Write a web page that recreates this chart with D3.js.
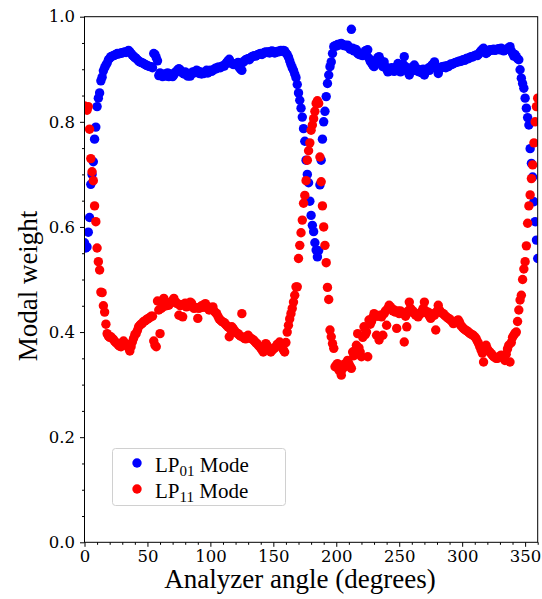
<!DOCTYPE html>
<html>
<head>
<meta charset="utf-8">
<script src="https://cdn.jsdelivr.net/npm/d3@7"></script>
<style>
  body { margin: 0; background: #fff; }
  .tick-label { font-family: "DejaVu Serif", serif; font-size: 16.5px; }
  .serif-label { font-family: "Liberation Serif", "Times New Roman", serif; }
</style>
</head>
<body>
<div id="app"></div>
<script>
// measurement angles, one per degree
const angles = d3.range(0, 361, 1);

// LP01 modal weight
const lp01 = [
  0.570, 0.560, 0.562, 0.590, 0.618, 0.681, 0.700, 0.724, 0.767, 0.790,
  0.829, 0.845, 0.855, 0.878, 0.885, 0.897, 0.903, 0.908, 0.912, 0.918,
  0.921, 0.924, 0.925, 0.926, 0.927, 0.928, 0.930, 0.929, 0.930, 0.931,
  0.931, 0.932, 0.933, 0.932, 0.934, 0.936, 0.933, 0.930, 0.927, 0.925,
  0.922, 0.921, 0.918, 0.916, 0.914, 0.913, 0.912, 0.911, 0.909, 0.908,
  0.907, 0.906, 0.905, 0.905, 0.903, 0.930, 0.928, 0.922, 0.916, 0.888,
  0.893, 0.889, 0.886, 0.888, 0.891, 0.887, 0.893, 0.886, 0.891, 0.887,
  0.886, 0.889, 0.894, 0.896, 0.899, 0.901, 0.899, 0.895, 0.893, 0.891,
  0.895, 0.890, 0.887, 0.890, 0.887, 0.892, 0.895, 0.893, 0.896, 0.898,
  0.897, 0.892, 0.895, 0.891, 0.894, 0.892, 0.895, 0.898, 0.893, 0.896,
  0.898, 0.896, 0.898, 0.900, 0.902, 0.901, 0.904, 0.904, 0.903, 0.905,
  0.907, 0.906, 0.910, 0.913, 0.916, 0.919, 0.912, 0.912, 0.909, 0.909,
  0.910, 0.911, 0.913, 0.903, 0.900, 0.898, 0.913, 0.916, 0.918, 0.919,
  0.920, 0.918, 0.922, 0.924, 0.925, 0.926, 0.925, 0.927, 0.928, 0.929,
  0.930, 0.928, 0.930, 0.932, 0.933, 0.932, 0.933, 0.931, 0.934, 0.935,
  0.933, 0.931, 0.932, 0.934, 0.933, 0.935, 0.936, 0.934, 0.936, 0.935,
  0.931, 0.928, 0.923, 0.916, 0.909, 0.903, 0.898, 0.891, 0.884, 0.871,
  0.855, 0.841, 0.826, 0.809, 0.787, 0.763, 0.727, 0.700, 0.684, 0.649,
  0.622, 0.603, 0.591, 0.570, 0.556, 0.543, 0.555, 0.680, 0.727, 0.767,
  0.800, 0.820, 0.848, 0.873, 0.889, 0.905, 0.914, 0.930, 0.943, 0.945,
  0.944, 0.947, 0.946, 0.948, 0.949, 0.947, 0.945, 0.946, 0.944, 0.946,
  0.942, 0.938, 0.976, 0.940, 0.935, 0.938, 0.937, 0.930, 0.928, 0.930,
  0.927, 0.926, 0.930, 0.935, 0.936, 0.937, 0.921, 0.915, 0.912, 0.908,
  0.905, 0.910, 0.918, 0.922, 0.924, 0.918, 0.910, 0.905, 0.914, 0.905,
  0.900, 0.895, 0.900, 0.897, 0.903, 0.900, 0.896, 0.900, 0.905, 0.911,
  0.900, 0.895, 0.900, 0.910, 0.924, 0.905, 0.898, 0.895, 0.889, 0.896,
  0.900, 0.905, 0.908, 0.900, 0.897, 0.900, 0.895, 0.898, 0.893, 0.900,
  0.889, 0.895, 0.900, 0.902, 0.898, 0.905, 0.908, 0.910, 0.914, 0.905,
  0.900, 0.892, 0.900, 0.903, 0.905, 0.904, 0.906, 0.903, 0.907, 0.905,
  0.908, 0.910, 0.909, 0.911, 0.912, 0.913, 0.914, 0.914, 0.916, 0.915,
  0.917, 0.918, 0.917, 0.920, 0.921, 0.920, 0.922, 0.924, 0.923, 0.925,
  0.926, 0.927, 0.926, 0.928, 0.932, 0.935, 0.938, 0.940, 0.934, 0.930,
  0.932, 0.935, 0.937, 0.936, 0.937, 0.938, 0.936, 0.937, 0.938, 0.939,
  0.937, 0.940, 0.938, 0.935, 0.937, 0.938, 0.939, 0.940, 0.943, 0.935,
  0.930, 0.925, 0.928, 0.924, 0.920, 0.918, 0.899, 0.883, 0.873, 0.864,
  0.845, 0.826, 0.808, 0.794, 0.749, 0.721, 0.695, 0.648, 0.610, 0.575,
  0.540
];

// LP11 modal weight
const lp11 = [
  0.830, 0.825, 0.822, 0.829, 0.786, 0.730, 0.705, 0.688, 0.640, 0.610,
  0.560, 0.534, 0.518, 0.476, 0.475, 0.450, 0.438, 0.415, 0.397, 0.392,
  0.390, 0.391, 0.388, 0.386, 0.382, 0.380, 0.378, 0.375, 0.373, 0.372,
  0.380, 0.383, 0.378, 0.375, 0.375, 0.370, 0.364, 0.372, 0.381, 0.388,
  0.395, 0.397, 0.403, 0.410, 0.413, 0.415, 0.417, 0.420, 0.421, 0.423,
  0.425, 0.426, 0.428, 0.430, 0.430, 0.383, 0.375, 0.372, 0.459, 0.442,
  0.397, 0.445, 0.448, 0.464, 0.455, 0.450, 0.452, 0.451, 0.455, 0.458,
  0.460, 0.464, 0.458, 0.455, 0.454, 0.432, 0.450, 0.452, 0.429, 0.451,
  0.455, 0.448, 0.450, 0.453, 0.457, 0.455, 0.448, 0.445, 0.447, 0.446,
  0.426, 0.445, 0.448, 0.450, 0.447, 0.452, 0.454, 0.450, 0.445, 0.442,
  0.447, 0.445, 0.448, 0.440, 0.437, 0.435, 0.430, 0.425, 0.423, 0.420,
  0.419, 0.418, 0.415, 0.412, 0.410, 0.391, 0.405, 0.410, 0.407, 0.403,
  0.400, 0.398, 0.397, 0.394, 0.392, 0.435, 0.390, 0.388, 0.387, 0.392,
  0.394, 0.390, 0.388, 0.387, 0.385, 0.383, 0.380, 0.378, 0.375, 0.372,
  0.370, 0.366, 0.362, 0.370, 0.378, 0.375, 0.370, 0.365, 0.362, 0.365,
  0.368, 0.370, 0.372, 0.376, 0.378, 0.381, 0.375, 0.370, 0.366, 0.362,
  0.380, 0.400, 0.413, 0.425, 0.435, 0.445, 0.457, 0.470, 0.486, 0.486,
  0.540, 0.565, 0.589, 0.613, 0.645, 0.660, 0.688, 0.727, 0.745, 0.760,
  0.784, 0.794, 0.806, 0.820, 0.835, 0.840, 0.835, 0.733, 0.686, 0.640,
  0.600, 0.565, 0.532, 0.485, 0.462, 0.404, 0.391, 0.378, 0.369, 0.334,
  0.337, 0.340, 0.328, 0.325, 0.318, 0.330, 0.334, 0.340, 0.335, 0.346,
  0.340, 0.335, 0.331, 0.362, 0.355, 0.365, 0.375, 0.397, 0.370, 0.362,
  0.353, 0.390, 0.410, 0.395, 0.400, 0.353, 0.423, 0.415, 0.420, 0.428,
  0.435, 0.430, 0.394, 0.430, 0.385, 0.432, 0.429, 0.394, 0.435, 0.440,
  0.413, 0.445, 0.451, 0.448, 0.445, 0.440, 0.442, 0.438, 0.407, 0.440,
  0.435, 0.440, 0.438, 0.435, 0.381, 0.430, 0.410, 0.440, 0.457, 0.445,
  0.438, 0.440, 0.436, 0.432, 0.435, 0.429, 0.433, 0.435, 0.440, 0.445,
  0.457, 0.440, 0.436, 0.438, 0.430, 0.426, 0.430, 0.435, 0.432, 0.404,
  0.440, 0.451, 0.442, 0.438, 0.436, 0.435, 0.432, 0.430, 0.428, 0.426,
  0.425, 0.422, 0.420, 0.416, 0.418, 0.420, 0.422, 0.423, 0.418, 0.412,
  0.410, 0.407, 0.405, 0.403, 0.402, 0.400, 0.398, 0.396, 0.395, 0.393,
  0.391, 0.388, 0.383, 0.378, 0.372, 0.366, 0.360, 0.343, 0.370, 0.375,
  0.368, 0.364, 0.362, 0.359, 0.356, 0.353, 0.352, 0.350, 0.350, 0.352,
  0.354, 0.356, 0.355, 0.352, 0.346, 0.358, 0.368, 0.375, 0.343, 0.380,
  0.390, 0.394, 0.398, 0.400, 0.420, 0.442, 0.461, 0.470, 0.500, 0.520,
  0.534, 0.564, 0.607, 0.640, 0.661, 0.692, 0.718, 0.760, 0.800, 0.829,
  0.845
];

const xTicks = [0, 50, 100, 150, 200, 250, 300, 350];
const xMinorTicks = [10, 20, 30, 40, 60, 70, 80, 90, 110, 120, 130, 140, 160, 170, 180, 190,
  210, 220, 230, 240, 260, 270, 280, 290, 310, 320, 330, 340, 360];
const yTicks = [0.0, 0.2, 0.4, 0.6, 0.8, 1.0];
const yMinorTicks = [0.05, 0.1, 0.15, 0.25, 0.3, 0.35, 0.45, 0.5, 0.55, 0.65, 0.7, 0.75, 0.85, 0.9, 0.95];

const series = [
  { name: "LP", sub: "01", rest: " Mode", values: lp01, color: "#0000ff" },
  { name: "LP", sub: "11", rest: " Mode", values: lp11, color: "#ff0000" }
];

const W = 542, H = 599;
const plot = { left: 84.5, right: 537.7, top: 16.7, bottom: 542.3 };

const svg = d3.select("#app").append("svg")
  .attr("width", W)
  .attr("height", H);

const x = d3.scaleLinear().domain([0, 360]).range([plot.left, plot.right]);
const y = d3.scaleLinear().domain([0, 1]).range([plot.bottom, plot.top]);

svg.append("clipPath").attr("id", "clip")
  .append("rect")
  .attr("x", plot.left).attr("y", plot.top)
  .attr("width", plot.right - plot.left)
  .attr("height", plot.bottom - plot.top);

// points, LP11 drawn over LP01
const pts = svg.append("g").attr("clip-path", "url(#clip)");
series.forEach(s => {
  pts.append("g").selectAll("circle")
    .data(angles.map((a, i) => [a, s.values[i]]))
    .join("circle")
    .attr("cx", d => x(d[0]))
    .attr("cy", d => y(d[1]))
    .attr("r", 4.7)
    .attr("fill", s.color);
});

// frame
svg.append("rect")
  .attr("x", plot.left).attr("y", plot.top)
  .attr("width", plot.right - plot.left)
  .attr("height", plot.bottom - plot.top)
  .attr("fill", "none")
  .attr("stroke", "#000")
  .attr("stroke-width", 1);

// axes
const xAxis = d3.axisBottom(x).tickValues(xTicks).tickFormat(d3.format("d"))
  .tickSize(4.5).tickPadding(3);
const xMinor = d3.axisBottom(x).tickValues(xMinorTicks).tickFormat("").tickSize(2.5);
const yAxis = d3.axisLeft(y).tickValues(yTicks).tickFormat(d3.format(".1f"))
  .tickSize(4.5).tickPadding(5);
const yMinor = d3.axisLeft(y).tickValues(yMinorTicks).tickFormat("").tickSize(2.5);

function style(g) {
  g.select(".domain").remove();
  g.attr("font-family", null).attr("font-size", null);
  g.selectAll("line").attr("stroke", "#000");
  g.selectAll("text").attr("class", "tick-label").attr("fill", "#000");
}
function noText(g) {
  g.selectAll("text").remove();
}

svg.append("g").attr("transform", `translate(0,${plot.bottom})`).call(xMinor).call(style).call(noText);
svg.append("g").attr("transform", `translate(0,${plot.bottom})`).call(xAxis).call(style);
svg.append("g").attr("transform", `translate(${plot.left},0)`).call(yMinor).call(style).call(noText);
svg.append("g").attr("transform", `translate(${plot.left},0)`).call(yAxis).call(style);

// axis labels
svg.append("text")
  .attr("class", "serif-label")
  .attr("x", 300).attr("y", 588)
  .attr("text-anchor", "middle")
  .attr("font-size", 27)
  .text("Analyzer angle (degrees)");

svg.append("text")
  .attr("class", "serif-label")
  .attr("transform", "translate(36.5,286) rotate(-90)")
  .attr("text-anchor", "middle")
  .attr("font-size", 27)
  .text("Modal weight");

// legend
const legend = svg.append("g");
legend.append("rect")
  .attr("x", 112.5).attr("y", 448.5)
  .attr("width", 173).attr("height", 57)
  .attr("rx", 3)
  .attr("fill", "#fff").attr("fill-opacity", 0.8)
  .attr("stroke", "#d0d0d0");

series.forEach((s, i) => {
  const cy = 463 + i * 26;
  legend.append("circle")
    .attr("cx", 137).attr("cy", cy).attr("r", 4.7)
    .attr("fill", s.color);
  const t = legend.append("text")
    .attr("class", "serif-label")
    .attr("x", 155).attr("y", cy + 9)
    .attr("font-size", 21);
  t.append("tspan").text(s.name);
  t.append("tspan").attr("font-size", 15).attr("dy", 4).text(s.sub);
  t.append("tspan").attr("dy", -4).text(s.rest);
});
</script>
</body>
</html>
